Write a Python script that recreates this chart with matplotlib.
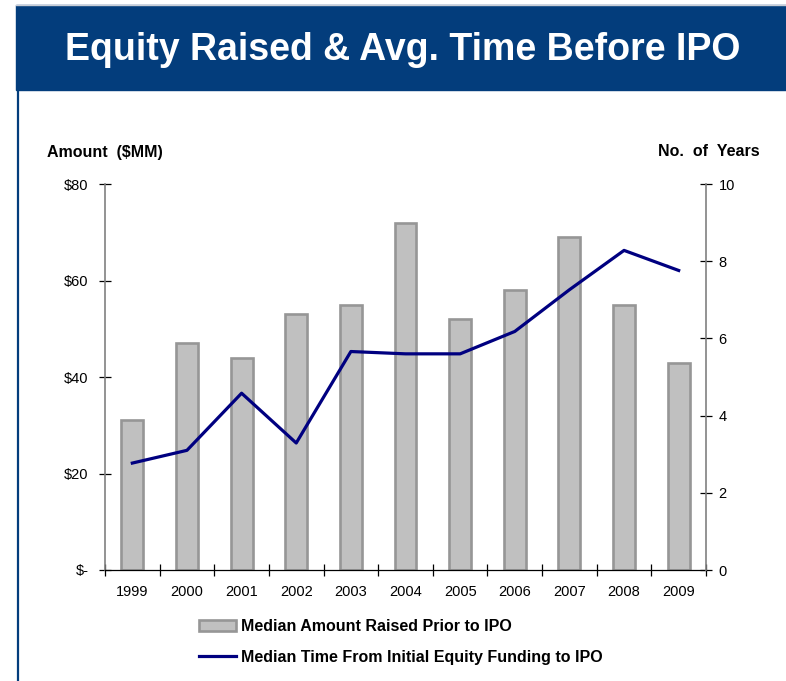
import matplotlib
matplotlib.use("Agg")
import matplotlib.pyplot as plt
import numpy as np
from matplotlib.lines import Line2D
from matplotlib.patches import Patch, Rectangle

plt.rcParams["font.family"] = ["Liberation Sans", "DejaVu Sans"]

YEARS = ["1999", "2000", "2001", "2002", "2003", "2004",
         "2005", "2006", "2007", "2008", "2009"]
AMOUNT_MM = [31, 47, 44, 53, 55, 72, 52, 58, 69, 55, 43]
YEARS_TO_IPO = [2.77, 3.1, 4.58, 3.29, 5.66, 5.6, 5.6, 6.18, 7.26, 8.28, 7.76]

LEFT_TICKS = [0, 20, 40, 60, 80]
LEFT_LABELS = ["$-", "$20", "$40", "$60", "$80"]
RIGHT_TICKS = [0, 2, 4, 6, 8, 10]

TITLE = "Equity Raised & Avg. Time Before IPO"
BAR_LABEL = "Median Amount Raised Prior to IPO"
LINE_LABEL = "Median Time From Initial Equity Funding to IPO"

HEADER_BLUE = "#033d7c"
BAR_FACE = "#c0c0c0"
BAR_EDGE = "#969696"
LINE_COLOR = "#000080"

W, H = 786, 681
fig = plt.figure(figsize=(W / 100, H / 100), dpi=100)

# header band + left rule
fig.patches.append(Rectangle((16 / W, 1 - 90 / H), 1 - 16 / W, 85 / H,
                             transform=fig.transFigure, color=HEADER_BLUE, zorder=0))
fig.add_artist(Line2D([16 / W, 1], [1 - 5 / H, 1 - 5 / H], transform=fig.transFigure,
                      color="#c8cdd6", lw=1.0))
fig.add_artist(Line2D([17.5 / W, 17.5 / W], [0, 1 - 90 / H], transform=fig.transFigure,
                      color=HEADER_BLUE, lw=1.6))
fig.text(403 / W, 1 - 60 / H, TITLE, color="white", fontsize=27, fontweight="bold",
         ha="center", va="baseline")

ax = fig.add_axes([105 / W, 111 / H, 601 / W, 386 / H])
x = np.arange(len(YEARS))
ax.bar(x, AMOUNT_MM, width=0.4, color=BAR_FACE, edgecolor=BAR_EDGE, linewidth=1.9,
       zorder=2)
ax.set_xlim(-0.5, len(YEARS) - 0.5)
ax.set_ylim(0, 80)
ax.set_yticks(LEFT_TICKS, LEFT_LABELS)
ax.set_xticks(x, YEARS)
ax.set_xticks(np.arange(-0.5, len(YEARS), 1.0), minor=True)
ax.tick_params(axis="x", which="major", length=0, pad=11, labelsize=10.5)
ax.tick_params(axis="x", which="minor", direction="inout", length=8, width=0.9,
               color="black")
ax.tick_params(axis="y", direction="inout", length=8, width=0.9, color="black",
               labelsize=10.5, pad=8)
ax.spines["top"].set_visible(False)
ax.spines["right"].set_visible(False)
ax.spines["left"].set_color("#808080")
ax.spines["left"].set_linewidth(1.2)
ax.spines["bottom"].set_color("black")
ax.spines["bottom"].set_linewidth(0.9)

ax2 = ax.twinx()
ax2.plot(x, YEARS_TO_IPO, color=LINE_COLOR, lw=2.3, zorder=3)
ax2.set_ylim(0, 10)
ax2.set_yticks(RIGHT_TICKS)
ax2.tick_params(axis="y", direction="inout", length=8, width=0.9, color="black",
                labelsize=10.5, pad=5)
ax2.spines["top"].set_visible(False)
ax2.spines["left"].set_visible(False)
ax2.spines["bottom"].set_visible(False)
ax2.spines["right"].set_color("#808080")
ax2.spines["right"].set_linewidth(1.2)

fig.text(47 / W, 1 - 152 / H, "Amount  ($MM)", fontsize=11.5, fontweight="bold",
         ha="left", va="center")
fig.text(760 / W, 1 - 152 / H, "No.  of  Years", fontsize=11.5, fontweight="bold",
         ha="right", va="center")

handles = [Patch(facecolor=BAR_FACE, edgecolor=BAR_EDGE, linewidth=1.9, label=BAR_LABEL),
           Line2D([], [], color=LINE_COLOR, lw=2.3, label=LINE_LABEL)]
fig.legend(handles=handles, loc="upper left", bbox_to_anchor=(199 / W, 1 - 619 / H),
           frameon=False, borderpad=0, borderaxespad=0, handlelength=2.3,
           handletextpad=0.3, labelspacing=1.0,
           prop={"weight": "bold", "size": 11.5})

fig.savefig("out.png", dpi=100)
